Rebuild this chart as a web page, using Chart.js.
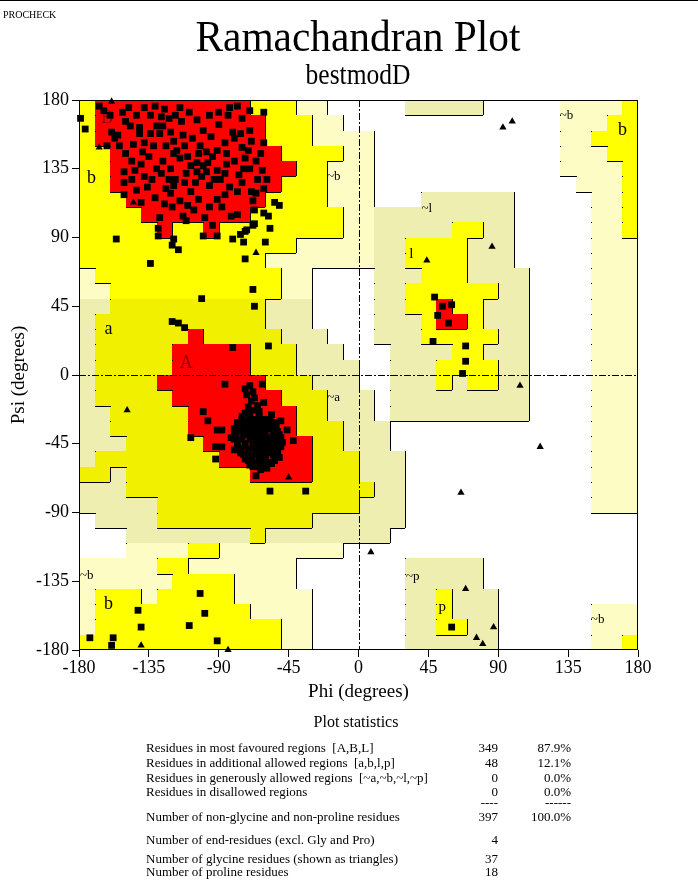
<!DOCTYPE html>
<html>
<head>
<meta charset="utf-8">
<title>Ramachandran Plot - bestmodD</title>
<script src="https://cdn.jsdelivr.net/npm/chart.js@4.4.1/dist/chart.umd.min.js"></script>
<style>
  html, body { margin: 0; padding: 0; background: #fff; }
  #page { position: relative; width: 698px; height: 888px; overflow: hidden;
          font-family: "Liberation Serif", "Times New Roman", serif; color: #000; }
  #page canvas { position: absolute; left: 0; top: 0; }
  .rule { position: absolute; left: 0; top: 0; width: 698px; height: 1px; background: #000; }
  .prog { position: absolute; left: 3px; top: 10px; font-size: 10px; line-height: 1; }
  .title, .subtitle { position: absolute; left: 0; width: 716px; text-align: center; line-height: 1; white-space: nowrap; }
  .title { top: 15px; font-size: 44px; transform: scaleX(0.94); }
  .subtitle { top: 60px; font-size: 29px; transform: scaleX(0.88); }
  .stats-head { position: absolute; left: 0; width: 712px; top: 714px; font-size: 16px; line-height: 1; text-align: center; }
  .row { position: absolute; left: 0; width: 698px; font-size: 13px; line-height: 1; white-space: pre; }
  .row .lab { position: absolute; left: 146px; }
  .row .num { position: absolute; right: 200px; }
  .row .pct { position: absolute; right: 127px; }
</style>
</head>
<body>
<div id="page">
  <canvas id="rama" width="698" height="888"></canvas>
  <div class="rule"></div>
  <div class="prog">PROCHECK</div>
  <div class="title">Ramachandran Plot</div>
  <div class="subtitle">bestmodD</div>
  <div class="stats-head">Plot statistics</div>
  <div id="stats"></div>
</div>
<script>
// Region map, 10 degree cells. Row 0 is psi 170..180, column 0 is phi -180..-170.
// R core, Y allowed (b,l,p), A allowed (a), K generous (~a,~l,~p), P generous (~b), W disallowed
const regionRows = [
  "YRRRRRRRRRRYYYPPWWWWWKKKKKWWWWWPPPPY",
  "YRRRRRRRRRRRYYYPPWWWWWWWWWWWWWWPPPYY",
  "YRRRRRRRRRRRYYYPPPPWWWWWWWWWWWWPPYYY",
  "YYRRRRRRRRRRRYYYYPPWWWWWWWWWWWWPPPYY",
  "YYRRRRRRRRRRRRYYPPPWWWWWWWWWWWWPPPPY",
  "YYRRRRRRRRRRRYYYPPPWWWWWWWWWWWWWPPPY",
  "YYYRRRRRRRRRYYYYPPPWWWKKKKKKWWWWWPPY",
  "YYYYRRRRRRRYYYYYYPPKKKKKKKKKWWWWWPPY",
  "YYYYYRYYRYYYYYYYYPPKKKKKYYKKWWWWWPPY",
  "YYYYYYYYYYYYYYPPPPPKKYYYYKKKWWWWWPPP",
  "YYYYYYYYYYYYPPPPPPPKKYYYYKKKWWWWWPPP",
  "PYYYYYYYYYYYYPPWWWWKKKYYYKKKKWWWWPPP",
  "PPYYYYYYYYYYYPPWWWWKKYYYYYYKKWWWWPPP",
  "KKAAAAAAAAAAKKKWWWWKKYYRYYKKKWWWWPPP",
  "KAAAAAAAAAAAKKKWWWWKKKYRRYKKKWWWWPPP",
  "KAAAAAARAAAAAKKKWWWKKKYYYYYKKWWWWPPP",
  "KAAAAARRRRRAAAKKKWWWKKKKYYKKKWWWWPPP",
  "KAAAAARRRRRAAAKKKKWWKKKYYYYKKWWWWPPP",
  "KAAAARRRRRRRAAAKKKWWKKKYKYYKKWWWWPPP",
  "KAAAAARRRRRRRAAAKKKWKKKKKKKKKWWWWPPP",
  "KKAAAAARRRRRRRAAKKKWKKKKKKKKKWWWWPPP",
  "KKAAAAARRRRRRRAAAKKKWWWWWWWWWWWWWPPP",
  "KKKAAAAARRRRRRRAAKKKWWWWWWWWWWWWWPPP",
  "KAAAAAAAARRRRRRAAAKKKWWWWWWWWWWWWPPP",
  "AAKAAAAAAAARRRRAAAKKKWWWWWWWWWWWWPPP",
  "KKKAAAAAAAAAAAAAAAAKKWWWWWWWWWWWWPPP",
  "KKKKKAAAAAAAAAAAAAKKKWWWWWWWWWWWWPPP",
  "WKKKKAAAAAAAAAAKKKKKKWWWWWWWWWWWWWWW",
  "WWWKKKKKKKKAKKKKKKKKWWWWWWWWWWWWWWWW",
  "WWWPPPPYYPPPPPPPPWWWWWWWWWWWWWWWWWWW",
  "PPPPPYYPPPPPPPWWWWWWWKKKKKWWWWWWWWWW",
  "PPPPPPYYYYPPPPWWWWWWWKKKKKWWWWWWWWWW",
  "PYYYPYYYYYPPPPPWWWWWWKKYKKKWWWWWWWWW",
  "PYYYYYYYYYYPPPPWWWWWWKKYKKKWWWWWWPPP",
  "PYYYYYYYYYYYYPPWWWWWWKKYYKKWWWWWWPPP",
  "YYYYYYYYYYYYYPPWWWWWWKKKKKKWWWWWWPPY"
];

const regionLabels = [
  ["B", -162, 168], ["b", -172, 129], ["~b", -16, 130], ["a", -161, 30],
  ["A", -111, 8], ["~a", -16, -15], ["~l", 44, 109], ["l", 34, 79],
  ["~b", 134, 170], ["b", 170, 160], ["~b", -175, -131], ["b", -161, -150],
  ["~p", 35, -132], ["p", 54, -152], ["~b", 154, -160]
];

const tickDegrees = [-180, -135, -90, -45, 0, 45, 90, 135, 180];

// non-glycine residues [phi, psi], drawn as squares
const residueAngles = [
  // beta sheet region
  [-179,168],[-176,161],[-167,176],[-164,173],[-152,172],[-148,175],[-134,170],[-127,169],
  [-122,168],[-115,175],[-83,175],[-84,170],[-75,168],[-61,172],[-159,159],[-155,157],
  [-147,163],[-141,162],[-130,163],[-128,158],[-121,159],[-113,157],[-107,155],[-102,150],
  [-98,146],[-91,147],[-85,145],[-81,159],[-80,155],[-75,149],[-71,147],[-73,142],
  [-85,138],[-91,134],[-98,133],[-100,137],[-104,133],[-111,132],[-115,142],[-119,145],
  [-121,135],[-122,128],[-124,122],[-121,119],[-115,114],[-110,111],[-106,108],[-99,103],
  [-111,101],[-128,103],[-129,96],[-129,91],[-119,89],[-116,82],[-120,85],[-100,91],
  [-91,91],[-81,89],[-76,92],[-74,87],[-72,95],[-68,98],[-60,87],[-57,96],
  [-61,106],[-58,104],[-54,113],[-51,111],[-67,108],[-68,114],[-66,119],[-61,122],
  [-59,128],[-62,134],[-61,152],[-134,73],[-156,89],[-151,133],[-151,126],[-151,118],
  [-135,143],[-139,146],[-130,135],[-136,123],[-143,121],[-140,113],[-157,155],[-154,150],
  [-145,151],[-141,158],[-124,150],[-117,147],[-110,143],[-104,139],[-94,143],[-89,128],
  [-83,123],[-78,120],[-75,126],[-69,120],[-91,115],[-88,110],[-74,135],[-73,76],
  [-67,99],[-73,94],[-118,128],[-126,140],[-96,124],[-108,120],[-132,150],[-114,166],
  [-100,160],[-90,164],[-70,160],[-66,140],[-78,105],[-138,130],[-146,140],[-125,112],
  [-105,126],
  [-160,170],[-150,166],[-143,170],[-138,175],[-131,176],[-125,174],[-118,170],[-109,172],
  [-104,167],[-96,170],[-90,172],[-78,176],[-70,173],[-162,150],[-150,145],[-144,134],
  [-140,138],[-133,128],[-127,132],[-119,124],[-112,126],[-108,137],[-101,130],[-97,139],
  [-93,128],[-86,132],[-80,140],[-77,131],[-70,135],[-65,128],[-63,145],[-69,153],
  [-76,158],[-86,152],[-95,156],[-103,145],[-112,150],[-119,153],[-126,163],[-134,158],
  [-138,152],[-146,128],[-131,116],[-120,110],[-113,104],[-103,115],[-96,110],[-86,118],
  [-82,104],[-94,98],
  // bridge and alpha region
  [-101,50],[-68,56],[-67,45],[-120,35],[-116,34],[-112,31],[-81,18],[-58,19],
  [-86,-6],[-62,-6],[-61,-18],[-100,-24],[-97,-30],[-91,-36],[-88,-36],[-92,-47],
  [-88,-47],[-108,-41],[-92,-55],[-82,-41],[-80,-49],[-69,-57],[-66,-66],[-57,-76],
  [-34,-76],[-50,-30],[-46,-36],[-42,-43],
  [-70,-7],[-68,-11],[-72,-13],[-69,-17],[-71,-21],[-67,-23],[-73,-25],[-65,-20],
  [-75,-27],[-70,-28],[-64,-27],[-60,-29],[-56,-26],
  [-78,-31],[-73,-32],[-68,-31],[-63,-33],[-58,-32],[-54,-31],
  [-80,-35],[-76,-36],[-71,-35],[-66,-37],[-61,-36],[-57,-35],[-52,-37],
  [-79,-40],[-74,-39],[-69,-41],[-64,-40],[-59,-41],[-55,-39],[-50,-41],
  [-78,-44],[-73,-45],[-68,-43],[-63,-45],[-58,-44],[-54,-46],[-49,-44],
  [-76,-48],[-71,-49],[-66,-47],[-61,-49],[-57,-48],[-52,-50],
  [-74,-52],[-69,-53],[-64,-51],[-60,-53],[-55,-52],[-51,-54],
  [-71,-56],[-66,-57],[-62,-55],[-58,-57],[-54,-56],
  [-68,-60],[-63,-59],[-59,-61],
  [-66,-34],[-62,-42],[-67,-45],[-60,-38],[-65,-50],[-70,-38],[-57,-43],[-63,-37],
  [-68,-48],[-61,-46],
  [-73,-9],[-67,-15],[-70,-24],[-66,-29],[-72,-30],
  [-77,-33],[-72,-34],[-67,-33],[-62,-31],[-57,-30],[-53,-34],
  [-80,-38],[-75,-37],[-70,-37],[-65,-39],[-60,-35],[-55,-37],[-51,-39],
  [-80,-42],[-75,-42],[-70,-42],[-65,-42],[-60,-43],[-55,-42],[-51,-43],
  [-78,-47],[-73,-47],[-68,-46],[-63,-47],[-59,-46],[-55,-48],[-50,-47],
  [-76,-51],[-71,-51],[-66,-52],[-62,-50],[-57,-51],[-53,-52],
  [-73,-55],[-69,-55],[-64,-56],[-60,-56],[-56,-58],
  [-70,-59],[-66,-60],[-61,-59],[-63,-62],[-75,-29],[-64,-24],
  // lower beta region
  [-102,-143],[-142,-154],[-99,-156],[-140,-165],[-109,-164],[-173,-172],[-158,-172],
  [-159,-177],[-91,-174],
  // left-handed helix and p regions
  [49,51],[54,45],[60,46],[51,39],[58,34],[48,22],[69,19],[69,9],[67,1],
  [60,-165]
];

// glycine residues [phi, psi], drawn as triangles
const glycineAngles = [
  [-167,149],[-159,179],[-145,113],[-66,80],[-149,-23],[-45,-67],[-140,-177],[-84,-180],
  [93,162],[99,166],[86,84],[44,75],[104,-7],[117,-47],[66,-77],[8,-116],
  [69,-140],[87,-165],[76,-172],[80,-176]
];

const statRows = [
  ["Residues in most favoured regions  [A,B,L]", "349", "87.9%", 752],
  ["Residues in additional allowed regions  [a,b,l,p]", "48", "12.1%", 767],
  ["Residues in generously allowed regions  [~a,~b,~l,~p]", "0", "0.0%", 782],
  ["Residues in disallowed regions", "0", "0.0%", 796],
  ["", "----", "------", 807],
  ["Number of non-glycine and non-proline residues", "397", "100.0%", 821],
  ["Number of end-residues (excl. Gly and Pro)", "4", "", 844],
  ["Number of glycine residues (shown as triangles)", "37", "", 863],
  ["Number of proline residues", "18", "", 876]
];

const regionColours = { R: '#ff0000', Y: '#ffff00', A: '#f0f000', K: '#eeeeb0', P: '#fcfcc4', W: '#ffffff' };
const regionLevel = { R: 3, Y: 2, A: 2, K: 1, P: 1, W: 0 };
const serif = '"Liberation Serif", "Times New Roman", serif';

regionRows.forEach((row, i) => {
  if (row.length !== 36) console.warn('region row ' + i + ' has ' + row.length + ' cells');
});

// statistics block under the plot
const statsBox = document.getElementById('stats');
statRows.forEach(([label, count, percent, baseline]) => {
  const div = document.createElement('div');
  div.className = 'row';
  div.style.top = (baseline - 11) + 'px';
  div.innerHTML = '<span class="lab"></span><span class="num"></span><span class="pct"></span>';
  div.querySelector('.lab').textContent = label;
  div.querySelector('.num').textContent = count;
  div.querySelector('.pct').textContent = percent;
  statsBox.appendChild(div);
});

const regionPlugin = {
  id: 'regions',
  beforeDatasetsDraw(chart) {
    const { ctx, chartArea, scales: { x, y } } = chart;
    const px = phi => Math.round(x.getPixelForValue(phi));
    const py = psi => Math.round(y.getPixelForValue(psi));
    const level = (r, c) => regionLevel[regionRows[r][c]];
    const nRows = regionRows.length;
    const nCols = regionRows[0].length;

    ctx.save();
    // cell fills
    for (let r = 0; r < nRows; r++) {
      for (let c = 0; c < nCols; c++) {
        const x0 = px(-180 + c * 10), x1 = px(-170 + c * 10);
        const y0 = py(180 - r * 10), y1 = py(170 - r * 10);
        ctx.fillStyle = regionColours[regionRows[r][c]];
        ctx.fillRect(x0, y0, x1 - x0, y1 - y0);
      }
    }

    // boundary lines where the region gets poorer going right or down
    ctx.strokeStyle = '#000';
    ctx.lineWidth = 1;
    ctx.beginPath();
    for (let r = 0; r < nRows; r++) {
      for (let c = 0; c < nCols; c++) {
        const x0 = px(-180 + c * 10), x1 = px(-170 + c * 10);
        const y0 = py(180 - r * 10), y1 = py(170 - r * 10);
        if (c < nCols - 1 && level(r, c) > level(r, c + 1)) {
          ctx.moveTo(x1 + 0.5, y0);
          ctx.lineTo(x1 + 0.5, y1);
        }
        if (r < nRows - 1 && level(r, c) > level(r + 1, c)) {
          ctx.moveTo(x0, y1 + 0.5);
          ctx.lineTo(x1, y1 + 0.5);
        }
      }
    }
    ctx.stroke();

    // dotted corners where the region gets better going right
    ctx.fillStyle = '#000';
    for (let r = 0; r < nRows; r++) {
      for (let c = 0; c < nCols - 1; c++) {
        if (level(r, c) < level(r, c + 1)) {
          ctx.fillRect(px(-170 + c * 10), py(180 - r * 10), 1, 1);
        }
      }
    }

    // dash-dot zero lines
    ctx.setLineDash([7, 2, 2, 2]);
    ctx.beginPath();
    const x0 = px(0) + 0.5, y0 = py(0) + 0.5;
    ctx.moveTo(x0, chartArea.top);
    ctx.lineTo(x0, chartArea.bottom);
    ctx.moveTo(chartArea.left, y0);
    ctx.lineTo(chartArea.right, y0);
    ctx.stroke();
    ctx.setLineDash([]);

    // frame
    ctx.strokeRect(chartArea.left + 0.5, chartArea.top + 0.5,
                   chartArea.right - chartArea.left - 1, chartArea.bottom - chartArea.top - 1);

    // region labels
    ctx.textAlign = 'center';
    ctx.textBaseline = 'middle';
    regionLabels.forEach(([text, phi, psi]) => {
      let size = 18;
      if (text[0] === '~') size = 13;
      else if (text === 'l' || text === 'p') size = 15;
      ctx.font = size + 'px ' + serif;
      ctx.fillStyle = (text === 'A' || text === 'B') ? '#990000' : '#000';
      ctx.fillText(text, x.getPixelForValue(phi), y.getPixelForValue(psi));
    });
    ctx.restore();
  }
};

const toPoints = list => list.map(([phi, psi]) => ({ x: phi, y: psi }));

const axisGrid = {
  display: true,
  drawOnChartArea: false,
  drawTicks: true,
  tickLength: 7,
  color: '#000'
};

new Chart(document.getElementById('rama').getContext('2d'), {
  type: 'scatter',
  data: {
    datasets: [
      {
        label: 'Residues',
        data: toPoints(residueAngles),
        pointStyle: 'rect',
        radius: 4.8,
        backgroundColor: '#000',
        borderWidth: 0,
        clip: false
      },
      {
        label: 'Glycine',
        data: toPoints(glycineAngles),
        pointStyle: 'triangle',
        radius: 4.2,
        backgroundColor: '#000',
        borderWidth: 0,
        clip: false
      }
    ]
  },
  options: {
    responsive: false,
    animation: false,
    devicePixelRatio: 1,
    layout: { padding: { left: 0, top: 100, right: 60, bottom: 182 } },
    plugins: { legend: { display: false }, tooltip: { enabled: false } },
    scales: {
      x: {
        type: 'linear',
        min: -180,
        max: 180,
        afterBuildTicks: scale => { scale.ticks = tickDegrees.map(v => ({ value: v })); },
        afterFit: scale => { scale.height = 56; },
        ticks: { color: '#000', font: { family: serif, size: 18 }, autoSkip: false, maxRotation: 0, padding: 0 },
        grid: axisGrid,
        border: { display: false },
        title: { display: true, text: 'Phi (degrees)', color: '#000',
                 font: { family: serif, size: 19 }, padding: { top: 0, bottom: 3 } }
      },
      y: {
        type: 'linear',
        min: -180,
        max: 180,
        afterBuildTicks: scale => { scale.ticks = tickDegrees.map(v => ({ value: v })); },
        afterFit: scale => { scale.width = 79; },
        ticks: { color: '#000', font: { family: serif, size: 18 }, autoSkip: false, padding: 3 },
        grid: axisGrid,
        border: { display: false },
        title: { display: true, text: 'Psi (degrees)', color: '#000',
                 font: { family: serif, size: 19 }, padding: { top: 8, bottom: 0 } }
      }
    }
  },
  plugins: [regionPlugin]
});
</script>
</body>
</html>
